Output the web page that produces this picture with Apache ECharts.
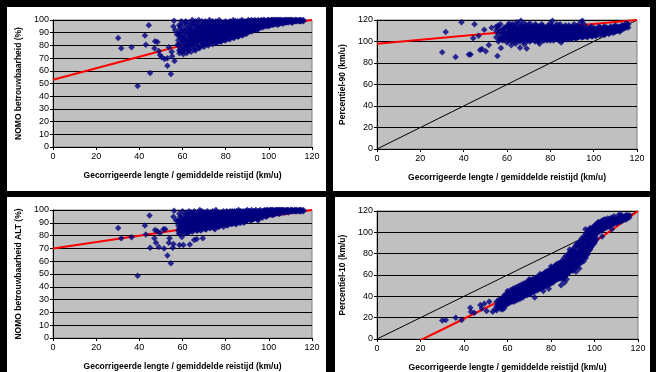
<!DOCTYPE html>
<html>
<head>
<meta charset="utf-8">
<script src="https://cdn.jsdelivr.net/npm/echarts@6/dist/echarts.min.js"></script>
<style>
    html, body { margin: 0; padding: 0; background: #000; }
    #chart { width: 656px; height: 372px; }
</style>
</head>
<body>
<div id="chart"></div>
<script>
// x tick values shared by all four panels
var xTicks = [0, 20, 40, 60, 80, 100, 120];

var xTitle = 'Gecorrigeerde lengte / gemiddelde reistijd (km/u)';
var yTitles = ['NOMO betrouwbaarheid (%)', 'Percentiel-90 (km/u)', 'NOMO betrouwbaarheid ALT (%)', 'Percentiel-10 (km/u)'];

// rows: [x, y1, y2, ...]
var nomoPoints = [
    [30.2, 85.8], [31.6, 77.7], [36.4, 78.5], [39.2, 48], [42.6, 87.7], [43, 80.6], [44.4, 95.8], [45, 58.3],
    [47.3, 83.2], [48.4, 82.7], [47, 77.7], [49, 75.6], [49.6, 72.4], [50.4, 70.6], [51.7, 69.3], [53, 64],
    [53, 69.8], [53.7, 78.5], [54.6, 57.5], [55, 75], [55.2, 71.4], [56.3, 67.7], [56.1, 99.5], [55.8, 94.8],
    [56.6, 92], [57.4, 88.5], [57.8, 80.8], [58.6, 73.8], [58.9, 93.4], [59.7, 86], [60.4, 73],
    [58, 80, 84, 90], [58.5, 76, 88, 96], [59, 77, 86, 95], [59.5, 82, 91, 99], [60, 75, 79, 83, 88],
    [60.5, 77, 85, 92, 97], [61, 78, 82, 86, 91], [61.5, 80, 88, 94, 99], [62, 74, 80, 84, 97],
    [62.5, 76, 83, 90, 93], [63, 77, 81, 85, 89, 98], [63.5, 79, 87, 92, 95], [64, 75, 83, 87, 93],
    [64.5, 81, 85, 90, 96, 100], [65, 79, 82, 86, 98], [65.5, 77, 84, 89, 92, 95], [66, 76, 84, 88, 91, 99],
    [66.5, 82, 86, 93, 97], [67, 80, 83, 85, 90, 95], [67.5, 78, 87, 91, 94, 100], [68, 78, 86, 89, 92, 97],
    [68.5, 83, 88, 90, 94], [69, 81, 84, 87, 93, 99], [69.5, 80, 86, 91, 96], [70, 79, 85, 88, 90, 96],
    [70.5, 83, 87, 92, 94, 99], [71, 82, 86, 89, 93, 97], [71.5, 81, 85, 91, 95, 98], [72, 80, 84, 87, 91, 97],
    [72.5, 85, 88, 90, 94, 100], [73, 83, 86, 89, 94, 96], [73.5, 82, 87, 91, 93, 98], [74, 81, 85, 88, 92, 99],
    [74.5, 84, 86, 90, 94, 96], [75, 84, 87, 90, 93, 97], [75.5, 82, 88, 92, 95, 99], [76, 82, 86, 89, 91, 96],
    [76.5, 85, 87, 93, 95, 98], [77, 85, 88, 90, 94, 97, 100], [77.5, 83, 89, 92, 96], [78, 83, 87, 90, 92, 98],
    [78.5, 85, 88, 91, 94, 96], [79, 86, 89, 91, 95, 98], [79.5, 84, 88, 92, 94, 97], [80, 84, 88, 90, 93, 96, 99],
    [80.5, 86, 91, 94, 95, 98], [81, 87, 89, 92, 95, 97], [81.5, 85, 90, 93, 94, 98], [82, 85, 89, 91, 94, 97, 99],
    [82.5, 88, 90, 93, 96], [83, 87, 90, 92, 95, 98], [83.5, 86, 91, 94, 97, 100], [84, 86, 89, 92, 94, 96, 98],
    [84.5, 88, 90, 93, 95, 99], [85, 88, 91, 93, 96, 98], [85.5, 87, 92, 94, 95, 99], [86, 87, 90, 93, 95, 97],
    [86.5, 89, 92, 94, 97, 99], [87, 89, 91, 94, 96, 98], [87.5, 88, 93, 95, 97, 100], [88, 88, 92, 94, 96, 99],
    [88.5, 90, 93, 95, 97, 98], [89, 90, 92, 95, 97, 99], [89.5, 89, 94, 96, 98], [90, 90, 93, 95, 97, 99],
    [90.5, 91, 94, 96, 98, 100], [91, 91, 94, 96, 98, 99], [91.5, 92, 95, 97, 99], [92, 91, 94, 96, 98, 100],
    [92.5, 92, 95, 97, 99], [93, 92, 95, 97, 99], [93.5, 93, 96, 98, 100], [94, 93, 95, 97, 99],
    [94.5, 92, 96, 98, 99], [95, 93, 94, 96, 98, 100], [95.5, 94, 97, 99], [96, 94, 96, 98, 99],
    [96.5, 95, 97, 99, 100], [97, 94, 96, 97, 99], [97.5, 95, 97, 98, 100], [98, 95, 97, 98, 100],
    [98.5, 96, 98, 99], [99, 95, 96, 98, 99], [99.5, 96, 97, 99, 100], [100, 95, 97, 98, 100], [100.5, 96, 98, 99],
    [101, 96, 98, 99, 100], [101.5, 97, 99, 100], [102, 96, 97, 99, 100], [102.5, 97, 98, 100], [103, 97, 98, 100],
    [103.5, 98, 99, 100], [104, 96, 98, 99, 100], [104.5, 97, 99, 100], [105, 97, 99, 100], [105.5, 98, 100],
    [106, 98, 99, 100], [106.5, 97, 99], [107, 98, 99, 100], [107.5, 98, 100], [108, 98, 99, 100],
    [108.5, 99, 100], [109, 98, 100], [109.5, 99, 100], [110, 99, 100], [110.5, 98, 100], [111, 98, 99, 100],
    [112, 99, 100], [112.5, 99, 100], [113, 99, 100], [114, 99, 100], [114.5, 99, 100], [115, 99, 100],
    [116, 99, 100]
];

var p90Points = [
    [30.1, 89.9], [31.7, 108.8], [36.3, 85.6], [39, 118], [42.4, 88], [43.2, 88], [45, 116], [44.4, 103],
    [46.9, 105.4], [47.6, 92], [48.4, 93], [49.5, 111], [50.2, 91], [51.6, 96.7], [52.9, 112.9], [55.6, 86.5],
    [57.2, 94], [56.8, 102.3], [56, 115], [57.9, 103], [66.4, 119.4], [81, 119.4], [94.8, 119.4], [69.1, 93.6],
    [66, 94.3], [62, 96.5], [68, 97.5], [75, 98], [85, 99],
    [55, 104, 110, 114], [56, 100, 107, 112], [57, 103, 109, 116], [58, 101, 106, 111], [58.5, 103, 108, 112],
    [59, 104, 108, 113], [60, 99, 103, 107, 114], [60.5, 101, 105, 110, 115], [61, 102, 106, 110, 117],
    [61.5, 104, 108, 113], [62, 100, 104, 108, 112], [62.5, 102, 106, 110, 116], [63, 103, 107, 111, 115],
    [63.5, 100, 105, 109, 113], [64, 98, 101, 105, 109, 113], [64.5, 103, 107, 111, 118], [65, 102, 106, 110, 116],
    [65.5, 101, 104, 108, 113], [66, 100, 104, 108, 112], [66.5, 102, 106, 110, 115], [67, 103, 107, 110, 114],
    [67.5, 100, 105, 108, 112], [68, 101, 105, 109, 113, 117], [68.5, 103, 107, 111, 115], [69, 100, 104, 107, 111],
    [69.5, 102, 105, 109, 113], [70, 102, 106, 109, 115], [70.5, 100, 104, 108, 112, 117], [71, 101, 104, 108, 112],
    [71.5, 103, 106, 110, 114], [72, 103, 107, 110, 114], [72.5, 101, 105, 108, 112], [73, 100, 105, 109, 113, 116],
    [73.5, 103, 107, 111, 115], [74, 102, 106, 110, 112], [74.5, 100, 104, 108, 114], [75, 101, 104, 108, 114],
    [75.5, 102, 106, 110, 113], [76, 103, 107, 111, 116], [76.5, 101, 105, 109, 115], [77, 101, 105, 109, 113],
    [77.5, 103, 107, 110, 112], [78, 102, 106, 108, 112], [78.5, 101, 104, 108, 114], [79, 104, 107, 111, 115],
    [79.5, 102, 106, 109, 113], [80, 101, 105, 109, 113, 117], [80.5, 103, 107, 111, 115], [81, 103, 106, 110, 114],
    [81.5, 101, 104, 108, 112], [82, 102, 105, 108, 112], [82.5, 103, 107, 110, 114], [83, 104, 107, 111, 116],
    [83.5, 102, 105, 109, 113], [84, 101, 105, 109, 113], [84.5, 103, 107, 111, 116], [85, 103, 106, 110, 114],
    [85.5, 101, 105, 108, 112], [86, 102, 104, 108, 111], [86.5, 103, 106, 110, 114], [87, 104, 107, 110, 115],
    [87.5, 102, 105, 109, 113], [88, 102, 106, 109, 112], [88.5, 104, 108, 111, 115], [89, 104, 107, 111, 114],
    [89.5, 102, 106, 109, 112], [90, 103, 105, 108, 112], [90.5, 104, 107, 110, 114], [91, 104, 107, 110, 116],
    [91.5, 103, 105, 109, 112], [92, 103, 106, 109, 112], [92.5, 104, 108, 111, 115], [93, 104, 107, 110, 114],
    [93.5, 105, 107, 110, 113], [94, 105, 108, 111, 118], [94.5, 104, 106, 109, 112], [95, 104, 107, 109, 113],
    [95.5, 105, 108, 111, 116], [96, 105, 108, 111], [96.5, 106, 109, 112], [97, 104, 107, 110, 113],
    [97.5, 105, 108, 110], [98, 106, 108, 111], [98.5, 106, 109, 113], [99, 105, 107, 110, 114], [99.5, 105, 108, 111],
    [100, 106, 109, 112], [100.5, 107, 110, 112], [101, 105, 108, 111], [101.5, 106, 109, 112], [102, 107, 109, 112],
    [102.5, 107, 110, 114], [103, 106, 109, 113], [103.5, 108, 111], [104, 107, 110, 112], [104.5, 107, 110, 113],
    [105, 106, 109, 111, 114], [105.5, 108, 111, 112], [106, 108, 110, 113], [106.5, 109, 112], [107, 107, 110, 112],
    [107.5, 108, 111, 113], [108, 109, 111, 114], [108.5, 110, 112], [109, 108, 111, 113], [109.5, 109, 112, 114],
    [110, 109, 112, 115], [110.5, 110, 113], [111, 110, 112, 114], [111.5, 111, 113], [112, 109, 111, 113],
    [112.5, 111, 114], [113, 111, 113, 115], [113.5, 112, 115], [114, 112, 114], [114.5, 113, 115],
    [115, 113, 115, 117], [116, 113, 116]
];

var nomoAltPoints = [
    [30.2, 86], [31.6, 78], [36.4, 78.7], [39.2, 48.6], [42.6, 87.8], [43, 80.8], [44.7, 95.8], [45, 70.6],
    [47.3, 84.4], [48.4, 83.4], [47, 78], [49.6, 82], [51.2, 85], [52, 85], [47.7, 74.5], [49, 71], [51.5, 70],
    [53, 64.4], [54.6, 58.4], [54, 78], [53.7, 74.5], [55.8, 73.5], [55.5, 70.6], [56.1, 99.5], [55.8, 94.8],
    [57, 92], [58.6, 72.7], [60.4, 72.7], [63.4, 73], [65.4, 76.6], [66.6, 77.4], [69.4, 78], [62.3, 82],
    [58.3, 81.6], [59.7, 79],
    [58, 84, 88, 92], [58.5, 86, 90, 97], [59, 82, 86, 90, 95], [59.5, 84, 88, 93], [60, 84, 88, 91, 99],
    [60.5, 83, 86, 90, 95], [61, 82, 86, 89, 93], [61.5, 84, 88, 92, 97], [62, 85, 88, 91, 97], [62.5, 82, 87, 90, 94],
    [63, 83, 87, 90, 94, 99], [63.5, 85, 89, 92, 96], [64, 85, 89, 92, 98], [64.5, 83, 87, 90, 95],
    [65, 84, 87, 90, 93, 97], [65.5, 86, 89, 93, 99], [66, 86, 89, 92, 95], [66.5, 84, 88, 91, 96],
    [67, 84, 88, 91, 94, 98], [67.5, 86, 90, 93, 96], [68, 86, 89, 92, 96, 100], [68.5, 84, 88, 91, 94],
    [69, 85, 88, 91, 95, 99], [69.5, 87, 90, 93, 97], [70, 87, 90, 92, 95, 98], [70.5, 85, 89, 91, 94, 97],
    [71, 85, 89, 91, 94, 96], [71.5, 87, 90, 93, 95, 99], [72, 87, 90, 93, 95, 97], [72.5, 86, 89, 92, 96],
    [73, 86, 89, 92, 95, 98], [73.5, 88, 91, 94, 97], [74, 88, 91, 93, 96, 99], [74.5, 86, 90, 92, 95],
    [75, 85, 89, 92, 94, 97], [75.5, 88, 91, 93, 96, 100], [76, 88, 90, 93, 96, 98], [76.5, 87, 89, 92, 94, 97],
    [77, 87, 90, 92, 95, 98], [77.5, 89, 92, 94, 96], [78, 89, 91, 94, 96, 98], [78.5, 88, 90, 93, 95, 97],
    [79, 87, 90, 93, 95, 99], [79.5, 89, 92, 94, 97], [80, 89, 92, 94, 96, 98], [80.5, 88, 91, 93, 95, 99],
    [81, 88, 91, 93, 96, 98], [81.5, 90, 92, 95, 97], [82, 90, 92, 95, 97, 99], [82.5, 89, 91, 94, 96, 98],
    [83, 89, 92, 94, 96, 99], [83.5, 90, 93, 95, 97], [84, 90, 93, 95, 97, 99], [84.5, 89, 92, 94, 96, 98],
    [85, 89, 92, 94, 97, 99], [85.5, 91, 93, 96, 98], [86, 91, 93, 95, 98, 100], [86.5, 90, 92, 95, 97],
    [87, 90, 93, 95, 97, 99], [87.5, 91, 94, 96, 98], [88, 92, 94, 96, 98, 99], [88.5, 90, 93, 95, 97],
    [89, 91, 93, 95, 97, 99], [89.5, 92, 94, 96, 99], [90, 92, 94, 96, 98, 100], [90.5, 93, 95, 97, 99],
    [91, 93, 95, 97, 99], [91.5, 92, 94, 96, 98], [92, 92, 94, 96, 98, 100], [92.5, 93, 96, 98], [93, 93, 95, 97, 99],
    [93.5, 94, 95, 97, 99], [94, 94, 96, 98, 100], [94.5, 93, 96, 98], [95, 92, 95, 97, 99], [95.5, 94, 97, 99],
    [96, 95, 97, 98, 100], [96.5, 95, 96, 98], [97, 94, 96, 98, 99], [97.5, 96, 98, 99], [98, 96, 97, 99, 100],
    [98.5, 95, 97, 99], [99, 95, 97, 98, 100], [99.5, 96, 98, 100], [100, 96, 98, 99], [100.5, 97, 99, 100],
    [101, 97, 98, 100], [101.5, 96, 98, 100], [102, 96, 98, 99, 100], [102.5, 97, 99], [103, 97, 99, 100],
    [103.5, 98, 100], [104, 98, 99, 100], [104.5, 97, 99, 100], [105, 97, 99, 100], [105.5, 98, 100],
    [106, 98, 99, 100], [106.5, 99, 100], [107, 98, 100], [107.5, 98, 99], [108, 99, 100], [108.5, 99, 100],
    [109, 98, 99, 100], [110, 99, 100], [110.5, 99, 100], [111, 99, 100], [112, 99, 100], [112.5, 99, 100],
    [113, 99, 100], [114, 99, 100], [114.5, 99, 100], [115, 99, 100], [116, 99, 100]
];

var p10Points = [
    [30, 17.4], [31.6, 17.8], [36.2, 20], [38.9, 17.8], [42.9, 29.3], [43.2, 25.5], [44.7, 24.6], [47.5, 31.8],
    [48.2, 28.5], [49.3, 33], [51.6, 34.9], [50.4, 26.2], [53.2, 25.5], [54.2, 28], [57.9, 28], [84.6, 50.5],
    [87.2, 56], [99.3, 102.5], [101.8, 109.6], [72.5, 39], [76.5, 45], [79, 47], [86.2, 53], [91.5, 63],
    [93, 66], [88.6, 84], [95.8, 103], [103.5, 96], [108, 103], [112, 117],
    [55, 27, 31, 35], [55.5, 29, 33], [56, 30, 33, 37], [56.5, 32, 36], [57, 28, 32, 36], [57.5, 30, 34, 38],
    [58, 31, 35, 38], [58.5, 29, 33, 37, 41], [59, 33, 36, 40], [59.5, 32, 38, 42], [60, 33, 36, 39, 42, 45],
    [60.5, 34, 37, 40, 44], [61, 34, 37, 40, 43], [61.5, 36, 39, 42, 46], [62, 35, 38, 41, 44], [62.5, 36, 40, 43, 47],
    [63, 35, 39, 42, 45], [63.5, 37, 41, 44, 48], [64, 36, 40, 43, 46], [64.5, 38, 42, 45, 49], [65, 37, 41, 44, 47],
    [65.5, 39, 43, 46, 50], [66, 38, 42, 45, 48], [66.5, 40, 44, 47, 51], [67, 39, 43, 46, 49], [67.5, 40, 44, 48, 52],
    [68, 41, 44, 47, 51], [68.5, 42, 46, 49, 53], [69, 41, 45, 48, 52], [69.5, 43, 47, 50, 54],
    [70, 42, 46, 49, 52, 56], [70.5, 44, 47, 51, 55], [71, 43, 47, 50, 54], [71.5, 45, 49, 52, 56],
    [72, 44, 48, 51, 55], [72.5, 46, 50, 53, 57], [73, 45, 49, 53, 56], [73.5, 47, 51, 54, 58], [74, 46, 50, 54, 58],
    [74.5, 48, 52, 55, 59], [75, 47, 51, 54, 57, 61], [75.5, 49, 53, 56, 60], [76, 48, 52, 56, 60],
    [76.5, 50, 54, 57, 61], [77, 49, 53, 57, 61], [77.5, 51, 55, 59, 63], [78, 50, 54, 58, 62], [78.5, 52, 56, 60, 64],
    [79, 51, 55, 59, 63], [79.5, 52, 57, 61, 65], [80, 52, 56, 60, 64, 68], [80.5, 54, 58, 62, 66],
    [81, 53, 58, 62, 67], [81.5, 55, 59, 63, 68], [82, 55, 60, 64, 69], [82.5, 56, 61, 65, 70], [83, 56, 60, 64, 69],
    [83.5, 57, 61, 66, 71], [84, 57, 62, 66, 71], [84.5, 58, 62, 67, 72], [85, 56, 60, 64, 68, 73],
    [85.5, 57, 62, 66, 71], [86, 58, 63, 67, 72, 76], [86.5, 59, 64, 68, 73], [87, 60, 65, 69, 74, 78],
    [87.5, 61, 66, 71, 76], [88, 62, 67, 72, 77, 80], [88.5, 63, 68, 73, 78], [89, 64, 69, 74, 79, 82],
    [89.5, 65, 70, 75, 81], [90, 64, 68, 73, 78, 84], [90.5, 67, 72, 77, 83], [91, 66, 70, 75, 80, 86],
    [91.5, 69, 74, 79, 88], [92, 68, 72, 77, 82, 89], [92.5, 71, 76, 81, 87], [93, 70, 75, 80, 85, 91],
    [93.5, 73, 78, 83, 90], [94, 72, 77, 82, 88, 94], [94.5, 75, 80, 86, 92], [95, 73, 79, 84, 90, 96],
    [95.5, 77, 82, 88, 95], [96, 76, 81, 87, 93, 99], [96.5, 79, 85, 91, 97], [97, 80, 86, 92, 98, 102],
    [97.5, 83, 89, 95, 100], [98, 84, 90, 96, 101, 104], [98.5, 86, 92, 98, 103], [99, 88, 94, 99, 104],
    [99.5, 89, 95, 100, 105], [100, 90, 96, 101, 106], [100.5, 92, 98, 103, 107], [101, 94, 99, 104, 108],
    [101.5, 100, 104, 108], [102, 101, 105, 109], [102.5, 101, 105, 109], [103, 102, 106, 110], [103.5, 102, 107, 111],
    [104, 103, 107, 111], [104.5, 104, 108, 112], [105, 104, 108, 112], [106, 105, 109, 113], [106.5, 106, 110],
    [107, 106, 110, 113], [108, 107, 111, 114], [108.5, 108, 112], [109, 108, 112, 115], [110, 109, 113],
    [110.5, 109, 112], [111, 110, 113, 116], [112, 110, 114], [112.5, 111, 114], [113, 111, 115], [114, 112, 115],
    [114.5, 112, 116], [115, 113, 116], [116, 114, 116]
];

// red trend lines and the y = x reference line
var nomoTrend = [[0, 53], [20, 62], [40, 71], [60, 80], [80, 88], [100, 95], [120, 100]];
var p90Trend = [[0, 98], [120, 120]];
var nomoAltTrend = [[0, 70], [120, 100]];
var p10Trend = [[20, -1], [40, 19], [60, 40], [80, 65], [100, 91], [120, 120]];
var diagonal = [[0, 0], [120, 120]];

(function () {
    function expand(rows) {
        var out = [];
        for (var i = 0; i < rows.length; i++) {
            for (var j = 1; j < rows[i].length; j++) {
                out.push([rows[i][0], rows[i][j]]);
            }
        }
        return out;
    }

    var font = 'Arial, "Liberation Sans", sans-serif';
    var grids = [
        {left: 53, top: 20, width: 259, height: 127},
        {left: 377, top: 20, width: 260, height: 129},
        {left: 53, top: 210, width: 259, height: 128},
        {left: 377, top: 211, width: 261, height: 128}
    ];
    var yMax = [100, 120, 100, 120];
    var yStep = [10, 20, 10, 20];

    var option = {
        animation: false,
        backgroundColor: '#000',
        graphic: [
            {type: 'rect', shape: {x: 7, y: 7, width: 319, height: 184}, style: {fill: '#fff'}, z: -10},
            {type: 'rect', shape: {x: 333, y: 7, width: 317, height: 184}, style: {fill: '#fff'}, z: -10},
            {type: 'rect', shape: {x: 7, y: 197, width: 319, height: 180}, style: {fill: '#fff'}, z: -10},
            {type: 'rect', shape: {x: 335, y: 197, width: 315, height: 180}, style: {fill: '#fff'}, z: -10}
        ],
        grid: [],
        xAxis: [],
        yAxis: [],
        series: []
    };

    for (var g = 0; g < 4; g++) {
        option.grid.push({
            left: grids[g].left, top: grids[g].top, width: grids[g].width, height: grids[g].height,
            show: true, backgroundColor: '#c0c0c0', borderColor: '#808080', borderWidth: 1,
            outerBoundsMode: 'none'
        });
        option.xAxis.push({
            type: 'value', gridIndex: g, min: xTicks[0], max: xTicks[xTicks.length - 1], interval: 20,
            name: xTitle, nameLocation: 'middle', nameGap: 24,
            nameTextStyle: {fontFamily: font, fontSize: 8.5, fontWeight: 'bold', color: '#000'},
            axisLine: {onZero: false, lineStyle: {color: '#000', width: 1}},
            axisTick: {show: true, inside: false, length: 3, lineStyle: {color: '#000'}},
            axisLabel: {fontFamily: font, fontSize: 9, color: '#000', margin: 5},
            splitLine: {show: false}
        });
        option.yAxis.push({
            type: 'value', gridIndex: g, min: 0, max: yMax[g], interval: yStep[g],
            name: yTitles[g], nameLocation: 'middle', nameGap: 30,
            nameTextStyle: {fontFamily: font, fontSize: 8.5, fontWeight: 'bold', color: '#000'},
            axisLine: {show: true, onZero: false, lineStyle: {color: '#000', width: 1}},
            axisTick: {show: true, inside: false, length: 3, lineStyle: {color: '#000'}},
            axisLabel: {fontFamily: font, fontSize: 9, color: '#000', margin: 4},
            splitLine: {show: true, lineStyle: {color: '#000', width: 1}}
        });
    }

    function line(idx, data, color, width, smooth) {
        return {
            type: 'line', xAxisIndex: idx, yAxisIndex: idx, data: data, smooth: smooth,
            symbol: 'none', z: 1, clip: true,
            lineStyle: {color: color, width: width}
        };
    }

    function dots(idx, rows) {
        return {
            type: 'scatter', xAxisIndex: idx, yAxisIndex: idx, data: expand(rows),
            symbol: 'diamond', symbolSize: 6.5, z: 2,
            itemStyle: {color: '#000080'}
        };
    }

    option.series.push(
        line(0, nomoTrend, '#ff0000', 2, true),
        line(1, diagonal, '#000', 1, false),
        line(1, p90Trend, '#ff0000', 2, false),
        line(2, nomoAltTrend, '#ff0000', 2, false),
        line(3, diagonal, '#000', 1, false),
        line(3, p10Trend, '#ff0000', 2, true),
        dots(0, nomoPoints),
        dots(1, p90Points),
        dots(2, nomoAltPoints),
        dots(3, p10Points)
    );

    var chart = echarts.init(document.getElementById('chart'));
    chart.setOption(option);
})();
</script>
</body>
</html>
